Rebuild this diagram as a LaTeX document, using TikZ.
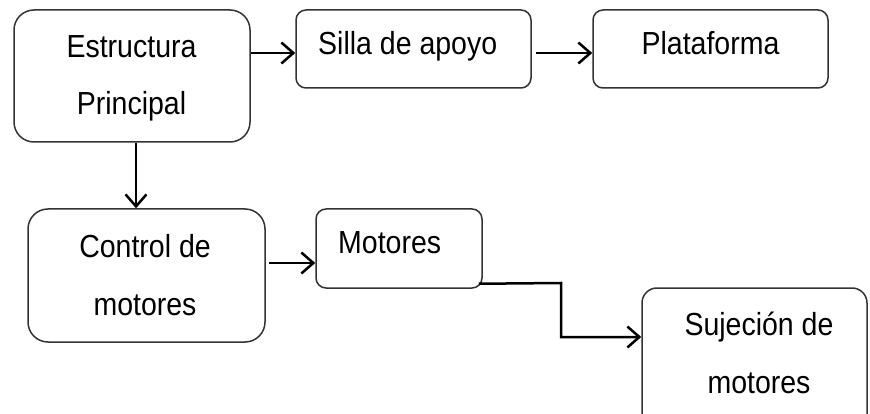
\documentclass[tikz,border=0pt]{standalone}
\usepackage{fontspec}
\setmainfont{Liberation Sans}
\usetikzlibrary{arrows.meta}
\newcommand{\tl}[1]{\scalebox{1}[1.12]{#1}}
\begin{document}
\begin{tikzpicture}[x=1pt,y=-1pt,
  box/.style={draw=black!80,line width=1.5pt,inner sep=0pt,rectangle},
  lbl/.style={inner sep=0pt,font=\fontsize{28.5}{30}\selectfont},
  arr/.style={line width=2.5pt,-{Straight Barb[length=12pt,width=21pt,line width=2.5pt]}}]
\clip (0,0) rectangle (870,414);
\fill[white] (0,0) rectangle (870,414);
% boxes
\node[box,rounded corners=20pt,minimum width=236pt,minimum height=132pt] (b1) at (132,76) {};
\node[box,rounded corners=10pt,minimum width=235pt,minimum height=78pt] (b2) at (413.5,49) {};
\node[box,rounded corners=10pt,minimum width=235pt,minimum height=78pt] (b3) at (710.5,49) {};
\node[box,rounded corners=20pt,minimum width=237pt,minimum height=133pt] (b4) at (146.5,275.5) {};
\node[box,rounded corners=10pt,minimum width=166pt,minimum height=79pt] (b5) at (399,248.5) {};
\node[box,rounded corners=15pt,minimum width=225pt,minimum height=142pt] (b6) at (754.5,359) {};
% texts
\node[lbl,anchor=base] (t1a) at (131.5,58) {\tl{Estructura}};
\node[lbl,anchor=base] (t1b) at (131.5,115) {\tl{Principal}};
\node[lbl,anchor=base west] (t2) at (318,55) {\tl{Silla de apoyo}};
\node[lbl,anchor=base] (t3) at (710.5,55) {\tl{Plataforma}};
\node[lbl,anchor=base] (t4a) at (145,257) {\tl{Control de}};
\node[lbl,anchor=base] (t4b) at (145,315) {\tl{motores}};
\node[lbl,anchor=base west] (t5) at (338,254) {\tl{Motores}};
\node[lbl,anchor=base] (t6a) at (759,335) {\tl{Sujeción de}};
\node[lbl,anchor=base] (t6b) at (759,393) {\tl{motores}};
% connectors
\draw[arr] ([yshift=23pt]b1.east) -- ([yshift=23pt]b1.east -| b2.west);
\draw[arr] ([xshift=4pt,yshift=-4pt]b2.east) -- ([yshift=-4pt]b2.east -| b3.west);
\draw[arr] ([xshift=4pt]b1.south) -- ([xshift=4pt]b1.south |- b4.north);
\draw[arr] ([xshift=3pt,yshift=12.5pt]b4.east) -- ([yshift=12.5pt]b4.east -| b5.west);
\coordinate (s5) at ([xshift=-4pt,yshift=5pt]b5.south east);
\coordinate (k1) at (561,283);
\coordinate (k2) at (561,337);
\draw[arr] (s5) -- (k1) -- (k2) -- (k2 -| b6.west);
\end{tikzpicture}
\end{document}
